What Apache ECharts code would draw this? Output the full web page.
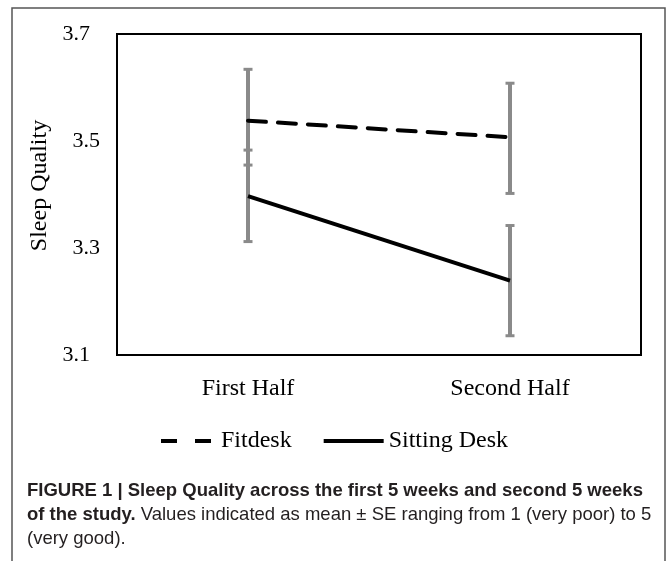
<!DOCTYPE html>
<html>
<head>
<meta charset="utf-8">
<script src="https://cdn.jsdelivr.net/npm/echarts@6/dist/echarts.min.js"></script>
<style>
html,body{margin:0;padding:0;background:#fff;}
#chart{width:667px;height:561px;}
</style>
</head>
<body>
<div id="chart"></div>
<script>
// ---- data ----
const categories = ['First Half', 'Second Half'];
const fitdeskMean = [3.538, 3.507];
const fitdeskLow = [3.455, 3.402];
const fitdeskHigh = [3.634, 3.608];
const sittingMean = [3.397, 3.239];
const sittingLow = [3.312, 3.136];
const sittingHigh = [3.483, 3.342];
const yTicks = [3.1, 3.3, 3.5, 3.7];

const chart = echarts.init(document.getElementById('chart'));

function errData(lo, hi) {
  return categories.map((c, i) => [i, lo[i], hi[i]]);
}

function renderErr(params, api) {
  const x = api.value(0), lo = api.value(1), hi = api.value(2);
  const pHi = api.coord([x, hi]);
  const pLo = api.coord([x, lo]);
  const cw = 4.5;
  const st = { stroke: '#8a8a8a', lineWidth: 4 };
  const cs = { stroke: '#8a8a8a', lineWidth: 3 };
  return {
    type: 'group',
    children: [
      { type: 'line', shape: { x1: pHi[0], y1: pHi[1], x2: pLo[0], y2: pLo[1] }, style: st },
      { type: 'line', shape: { x1: pHi[0] - cw, y1: pHi[1], x2: pHi[0] + cw, y2: pHi[1] }, style: cs },
      { type: 'line', shape: { x1: pLo[0] - cw, y1: pLo[1], x2: pLo[0] + cw, y2: pLo[1] }, style: cs }
    ]
  };
}

const serif = "'Liberation Serif', 'Times New Roman', serif";
const sans = "'Liberation Sans', Arial, sans-serif";

const option = {
  backgroundColor: '#fff',
  animation: false,
  grid: {
    left: 117, top: 34, right: 26, bottom: 206,
    show: true, borderColor: '#000', borderWidth: 2, backgroundColor: 'transparent'
  },
  legend: {
    data: [
      { name: 'Fitdesk', icon: 'path://M0,0H16V4H0Z M34,0H50V4H34Z' },
      { name: 'Sitting Desk', icon: 'rect' }
    ],
    left: 156, top: 424,
    itemWidth: 60, itemHeight: 4, itemGap: 32,
    itemStyle: { color: '#000', borderWidth: 0 },
    textStyle: { fontFamily: serif, fontSize: 24, color: '#000' }
  },
  xAxis: {
    type: 'category',
    data: categories,
    boundaryGap: true,
    axisLine: { show: false },
    axisTick: { show: false },
    axisLabel: { fontFamily: serif, fontSize: 24, color: '#000', margin: 22 },
    splitLine: { show: false }
  },
  yAxis: {
    type: 'value',
    min: yTicks[0], max: yTicks[yTicks.length - 1], interval: 0.2,
    name: 'Sleep Quality',
    nameLocation: 'middle',
    nameGap: 59,
    nameTextStyle: { fontFamily: serif, fontSize: 24, color: '#000', padding: [0, 0, 0, 18] },
    axisLine: { show: false },
    axisTick: { show: false },
    splitLine: { show: false },
    axisLabel: {
      fontFamily: serif, fontSize: 22, color: '#000', margin: 17,
      formatter: function (v) {
        const s = v.toFixed(1);
        return (s === '3.7' || s === '3.1') ? '{o|' + s + '}' : '{n|' + s + '}';
      },
      rich: {
        o: { fontFamily: serif, fontSize: 22, color: '#000', padding: [0, 10, 0, 0] },
        n: { fontFamily: serif, fontSize: 22, color: '#000' }
      }
    }
  },
  series: [
    {
      name: 'Fitdesk SE', type: 'custom', renderItem: renderErr,
      data: errData(fitdeskLow, fitdeskHigh), z: 1, silent: true
    },
    {
      name: 'Sitting SE', type: 'custom', renderItem: renderErr,
      data: errData(sittingLow, sittingHigh), z: 1, silent: true
    },
    {
      name: 'Fitdesk', type: 'line', data: fitdeskMean, symbol: 'none', z: 3,
      lineStyle: { color: '#000', width: 4, type: [18, 12], cap: 'round' },
      itemStyle: { color: '#000' }
    },
    {
      name: 'Sitting Desk', type: 'line', data: sittingMean, symbol: 'none', z: 3,
      lineStyle: { color: '#000', width: 4, type: 'solid' },
      itemStyle: { color: '#000' }
    }
  ],
  graphic: [
    {
      type: 'rect', silent: true, z: 0,
      shape: { x: 12, y: 8, width: 653, height: 600 },
      style: { fill: 'none', stroke: '#555', lineWidth: 1.5 }
    },
    {
      type: 'text', left: 27, top: 481,
      style: {
        text: 'FIGURE 1 | Sleep Quality across the first 5 weeks and second 5 weeks',
        fontFamily: sans, fontSize: 18.5, fontWeight: 'bold', fill: '#231f20'
      }
    },
    {
      type: 'text', left: 27, top: 505,
      style: {
        text: '{b|of the study.} Values indicated as mean \u00b1 SE ranging from 1 (very poor) to 5',
        fontFamily: sans, fontSize: 18.5, fill: '#231f20',
        rich: { b: { fontFamily: sans, fontSize: 18.5, fontWeight: 'bold', fill: '#231f20' } }
      }
    },
    {
      type: 'text', left: 27, top: 529,
      style: {
        text: '(very good).',
        fontFamily: sans, fontSize: 18.5, fill: '#231f20'
      }
    }
  ]
};

chart.setOption(option);
</script>
</body>
</html>
